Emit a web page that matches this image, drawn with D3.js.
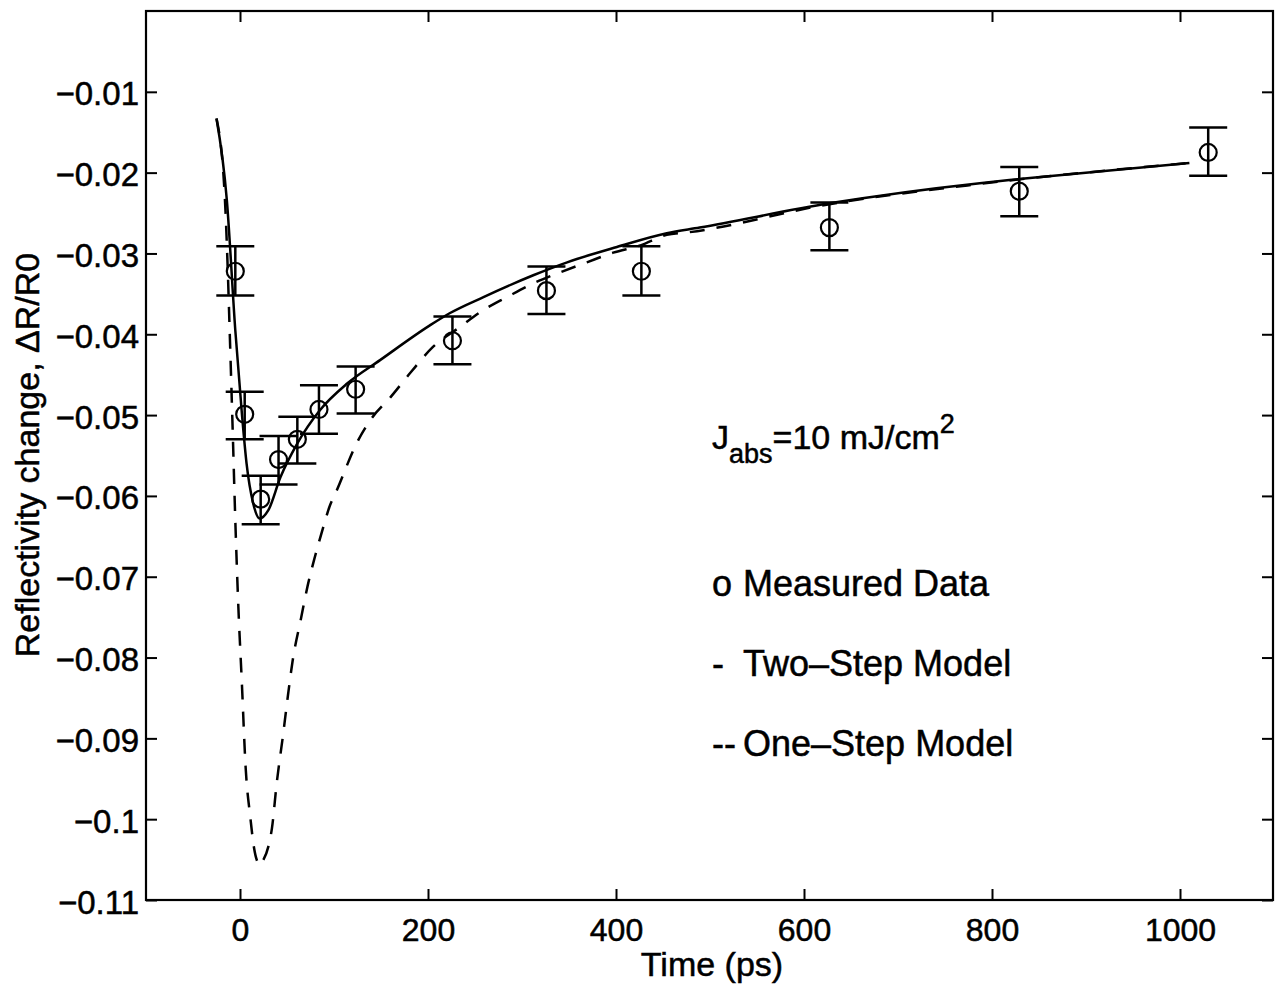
<!DOCTYPE html>
<meta charset="utf-8">

<!-- Load d3.js -->
<script src="https://d3js.org/d3.v7.min.js"></script>

<style>
  body { margin: 0; background: #fff; }
  text { font-family: "Liberation Sans", Arial, Helvetica, sans-serif; fill: #000; stroke: #000; stroke-width: 0.5px; }
</style>

<!-- Create a div where the graph will take place -->
<div id="my_dataviz"></div>

<script>

// measured points (time in ps, dR/R0 with the two error bar ends)
var timePs    = [-5, 5, 22, 41, 61, 84, 123, 226, 326, 427, 627, 829, 1030];
var measured  = [-0.0322, -0.0499, -0.0604, -0.0555, -0.0530, -0.0493, -0.0468, -0.0408, -0.0346, -0.0322, -0.0268, -0.0223, -0.0175];
var errTop    = [-0.0291, -0.0471, -0.0575, -0.0526, -0.0502, -0.0463, -0.0440, -0.0378, -0.0316, -0.0291, -0.0237, -0.0193, -0.0144];
var errBottom = [-0.0352, -0.0530, -0.0635, -0.0586, -0.0560, -0.0523, -0.0498, -0.0437, -0.0375, -0.0352, -0.0296, -0.0254, -0.0204];

// two-step model (solid)
var twoStepT = [-25, -14, -5, 2, 7, 14, 21, 30, 43, 61, 85, 114, 149, 202, 223, 259, 312, 348, 401, 454, 489, 627, 787, 829, 1010];
var twoStepV = [-0.0133, -0.0234, -0.0395, -0.0498, -0.0560, -0.0609, -0.0628, -0.0618, -0.0577, -0.0535, -0.0494, -0.0461, -0.0432, -0.0389, -0.0374, -0.0354, -0.0327, -0.0311, -0.0292, -0.0275, -0.0268, -0.0238, -0.0213, -0.0208, -0.0188];

// one-step model (dashed)
var oneStepT = [-25, -16, -13, -11, -8, -5, -2, 2, 6, 11, 15, 19, 21, 23, 34, 39, 46, 51, 56, 65, 72, 80, 89, 95, 103, 124, 140, 160, 181, 205, 234, 259, 284, 312, 337, 369, 397, 426, 454, 476, 627, 787, 1010];
var oneStepV = [-0.0133, -0.0234, -0.0321, -0.0395, -0.0510, -0.0630, -0.0730, -0.0832, -0.0936, -0.0998, -0.1036, -0.1054, -0.1057, -0.1054, -0.1011, -0.0956, -0.0894, -0.0847, -0.0804, -0.0751, -0.0711, -0.0674, -0.0637, -0.0614, -0.0593, -0.0535, -0.0504, -0.0478, -0.0448, -0.0416, -0.0391, -0.0370, -0.0354, -0.0337, -0.0325, -0.0311, -0.0299, -0.0290, -0.0277, -0.0274, -0.0239, -0.0214, -0.0188];

// ticks
var xTicks = [0, 200, 400, 600, 800, 1000];
var yTicks = [-0.11, -0.1, -0.09, -0.08, -0.07, -0.06, -0.05, -0.04, -0.03, -0.02, -0.01];

// legend
var legendLabels = ["Measured Data", "Two\u2013Step Model", "One\u2013Step Model"];
var legendMarks  = ["o", "-", "--"];

// set the dimensions and margins of the graph
var W = 1275, H = 987;
var margin = {top: 11, left: 146, right: 1, bottom: 87};
var x0 = margin.left, x1 = W - margin.right, y0 = margin.top, y1 = H - margin.bottom;

var svg = d3.select("#my_dataviz")
  .append("svg")
    .attr("width", W)
    .attr("height", H);

var x = d3.scaleLinear().domain([-100, 1100]).range([x0, x1]);
var y = d3.scaleLinear().domain([-0.11, 0]).range([y1, y0]);

var fmt = function(d) { return "\u2212" + String(Math.abs(d)); };

// axes, ticks pointing inward
svg.append("g")
  .attr("transform", "translate(0," + y1 + ")")
  .call(d3.axisBottom(x).tickValues(xTicks).tickSizeInner(-11).tickSizeOuter(0).tickPadding(0).tickFormat(d3.format("d")))
  .call(function(g) {
    g.select(".domain").remove();
    g.selectAll("line").attr("stroke-width", 2);
    g.selectAll("text").attr("y", 41).attr("dy", null).style("font-size", "32px");
  });

svg.append("g")
  .attr("transform", "translate(0," + y0 + ")")
  .call(d3.axisTop(x).tickValues(xTicks).tickSizeInner(-11).tickSizeOuter(0).tickFormat(""))
  .call(function(g) { g.select(".domain").remove(); g.selectAll("line").attr("stroke-width", 2); });

svg.append("g")
  .attr("transform", "translate(" + x0 + ",0)")
  .call(d3.axisLeft(y).tickValues(yTicks).tickSizeInner(-11).tickSizeOuter(0).tickFormat(fmt))
  .call(function(g) {
    g.select(".domain").remove();
    g.selectAll("line").attr("stroke-width", 2);
    g.selectAll("text").attr("x", -7).attr("dy", "13px").style("font-size", "33px");
  });

svg.append("g")
  .attr("transform", "translate(" + (x1 - 1) + ",0)")
  .call(d3.axisRight(y).tickValues(yTicks).tickSizeInner(-11).tickSizeOuter(0).tickFormat(""))
  .call(function(g) { g.select(".domain").remove(); g.selectAll("line").attr("stroke-width", 2); });

// frame
svg.append("rect")
  .attr("x", x0).attr("y", y0)
  .attr("width", x1 - 1 - x0).attr("height", y1 - y0)
  .attr("fill", "none").attr("stroke", "#000").attr("stroke-width", 2.2);

// model curves
var line = d3.line()
  .x(function(d) { return x(d[0]); })
  .y(function(d) { return y(d[1]); })
  .curve(d3.curveMonotoneX);

svg.append("path")
  .datum(d3.zip(oneStepT, oneStepV))
  .attr("d", line)
  .attr("fill", "none").attr("stroke", "#000")
  .attr("stroke-width", 2.5).attr("stroke-dasharray", "15,12");

svg.append("path")
  .datum(d3.zip(twoStepT, twoStepV))
  .attr("d", line)
  .attr("fill", "none").attr("stroke", "#000")
  .attr("stroke-width", 2.5);

// measured data with error bars
var pts = timePs.map(function(t, i) { return {t: t, v: measured[i], hi: errTop[i], lo: errBottom[i]}; });
var g = svg.append("g").attr("stroke", "#000").attr("fill", "none").attr("stroke-width", 2.5);

g.selectAll(".eb").data(pts).enter().append("line")
  .attr("x1", function(d) { return x(d.t); }).attr("x2", function(d) { return x(d.t); })
  .attr("y1", function(d) { return y(d.hi); }).attr("y2", function(d) { return y(d.lo); });
g.selectAll(".capT").data(pts).enter().append("line")
  .attr("x1", function(d) { return x(d.t) - 19; }).attr("x2", function(d) { return x(d.t) + 19; })
  .attr("y1", function(d) { return y(d.hi); }).attr("y2", function(d) { return y(d.hi); });
g.selectAll(".capB").data(pts).enter().append("line")
  .attr("x1", function(d) { return x(d.t) - 19; }).attr("x2", function(d) { return x(d.t) + 19; })
  .attr("y1", function(d) { return y(d.lo); }).attr("y2", function(d) { return y(d.lo); });
g.selectAll("circle").data(pts).enter().append("circle")
  .attr("cx", function(d) { return x(d.t); })
  .attr("cy", function(d) { return y(d.v); })
  .attr("r", 8.5).attr("stroke-width", 2.2);

// annotation J_abs = 10 mJ/cm^2
var ann = svg.append("text").attr("x", 712).attr("y", 449).style("font-size", "34px");
ann.append("tspan").text("J");
ann.append("tspan").attr("dy", 14).style("font-size", "27px").text("abs");
ann.append("tspan").attr("dy", -14).text("=10 mJ/cm");
ann.append("tspan").attr("dy", -16).style("font-size", "27px").text("2");

// legend
var legY = [596, 676, 756];
legendLabels.forEach(function(lab, i) {
  svg.append("text").attr("x", 712).attr("y", legY[i]).style("font-size", "36px").text(legendMarks[i]);
  svg.append("text").attr("x", 743).attr("y", legY[i]).style("font-size", "36px").text(lab);
});

// axis titles
svg.append("text")
  .attr("x", 712).attr("y", 976)
  .attr("text-anchor", "middle").style("font-size", "34px")
  .text("Time (ps)");

svg.append("text")
  .attr("transform", "translate(39,455) rotate(-90)")
  .attr("text-anchor", "middle").style("font-size", "34px")
  .text("Reflectivity change, \u0394R/R0");

</script>
